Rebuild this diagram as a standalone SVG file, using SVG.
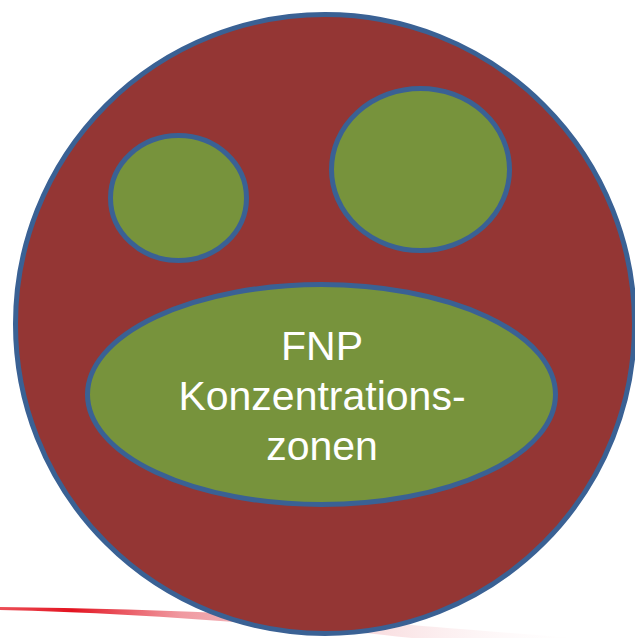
<svg xmlns="http://www.w3.org/2000/svg" width="635" height="638" viewBox="0 0 635 638">
  <defs>
    <linearGradient id="swooshGrad" x1="0" y1="0" x2="600" y2="0" gradientUnits="userSpaceOnUse">
      <stop offset="0" stop-color="#e8303a" stop-opacity="0.85"/>
      <stop offset="0.12" stop-color="#e3121f" stop-opacity="1"/>
      <stop offset="0.3" stop-color="#ec7f88" stop-opacity="0.8"/>
      <stop offset="0.6" stop-color="#f2b9be" stop-opacity="0.55"/>
      <stop offset="1" stop-color="#ffffff" stop-opacity="0"/>
    </linearGradient>
    <style>
      .outer { fill: #943634; stroke: #3a6194; stroke-width: 5; }
      .zone { fill: #77933c; stroke: #3a6194; stroke-width: 5; }
      .label { font-family: "Liberation Sans", Arial, sans-serif; font-size: 41px; fill: #ffffff; text-anchor: middle; }
    </style>
  </defs>
  <rect width="635" height="638" fill="#ffffff"/>
  <path id="swoosh" d="M0,607 C100,608 200,611 300,617 C380,622 470,630 600,640 L600,660 C480,645 380,634 300,627 C200,619 100,612 0,610 Z" fill="url(#swooshGrad)"/>
  <g id="connectors"/>
  <g id="area">
    <circle class="outer" cx="325" cy="324" r="309.5"/>
  </g>
  <g id="zone-left">
    <ellipse class="zone" cx="178.5" cy="198" rx="68" ry="62.5"/>
  </g>
  <g id="zone-right">
    <ellipse class="zone" cx="420.5" cy="169.5" rx="89" ry="81"/>
  </g>
  <g id="zone-main">
    <ellipse class="zone" cx="321.5" cy="394.5" rx="234" ry="110"/>
    <text class="label" x="322" y="360">FNP</text>
    <text class="label" x="322" y="410">Konzentrations-</text>
    <text class="label" x="322" y="460">zonen</text>
  </g>
</svg>
